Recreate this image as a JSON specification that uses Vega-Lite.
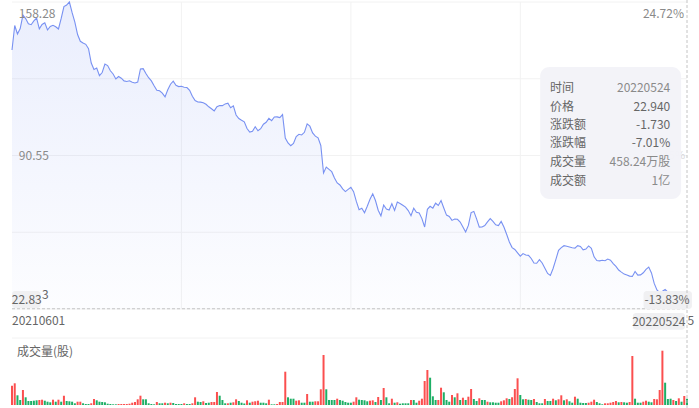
{
"$schema": "https://vega.github.io/schema/vega-lite/v6.json",
"width": 699, "height": 408, "padding": 0, "autosize": {"type": "none"},
"background": "white",
"config": {"view": {"stroke": null}, "text": {"font": "Noto Sans CJK SC", "fontSize": 12}},
"datasets": {
"d": [
{"i":0,"p":137.10,"v":1409,"c":"r"},{"i":1,"p":147.91,"v":1584,"c":"r"},{"i":2,"p":144.16,"v":708,"c":"g"},{"i":3,"p":146.59,"v":365,"c":"g"},{"i":4,"p":152.50,"v":1095,"c":"r"},{"i":5,"p":150.95,"v":562,"c":"g"},{"i":6,"p":148.70,"v":292,"c":"g"},{"i":7,"p":148.26,"v":292,"c":"g"},{"i":8,"p":149.98,"v":314,"c":"g"},{"i":9,"p":151.22,"v":343,"c":"g"},
{"i":10,"p":146.45,"v":365,"c":"r"},{"i":11,"p":148.35,"v":387,"c":"r"},{"i":12,"p":149.10,"v":314,"c":"g"},{"i":13,"p":145.92,"v":241,"c":"g"},{"i":14,"p":147.47,"v":197,"c":"g"},{"i":15,"p":148.00,"v":387,"c":"r"},{"i":16,"p":147.38,"v":241,"c":"g"},{"i":17,"p":146.37,"v":387,"c":"r"},{"i":18,"p":151.04,"v":241,"c":"g"},{"i":19,"p":156.25,"v":679,"c":"r"},
{"i":20,"p":156.95,"v":292,"c":"g"},{"i":21,"p":158.28,"v":270,"c":"g"},{"i":22,"p":153.56,"v":241,"c":"g"},{"i":23,"p":149.45,"v":124,"c":"g"},{"i":24,"p":143.94,"v":241,"c":"r"},{"i":25,"p":140.94,"v":241,"c":"r"},{"i":26,"p":140.19,"v":124,"c":"g"},{"i":27,"p":139.61,"v":73,"c":"g"},{"i":28,"p":137.67,"v":73,"c":"g"},{"i":29,"p":131.36,"v":124,"c":"r"},
{"i":30,"p":128.50,"v":438,"c":"r"},{"i":31,"p":129.16,"v":343,"c":"g"},{"i":32,"p":125.76,"v":241,"c":"g"},{"i":33,"p":127.17,"v":219,"c":"g"},{"i":34,"p":130.88,"v":197,"c":"g"},{"i":35,"p":130.22,"v":95,"c":"g"},{"i":36,"p":127.92,"v":73,"c":"g"},{"i":37,"p":126.51,"v":51,"c":"g"},{"i":38,"p":124.31,"v":51,"c":"g"},{"i":39,"p":125.41,"v":73,"c":"r"},
{"i":40,"p":124.66,"v":73,"c":"r"},{"i":41,"p":123.47,"v":73,"c":"r"},{"i":42,"p":123.20,"v":73,"c":"r"},{"i":43,"p":123.51,"v":95,"c":"r"},{"i":44,"p":122.85,"v":168,"c":"r"},{"i":45,"p":122.54,"v":219,"c":"r"},{"i":46,"p":122.94,"v":416,"c":"r"},{"i":47,"p":128.72,"v":679,"c":"r"},{"i":48,"p":128.85,"v":416,"c":"g"},{"i":49,"p":126.73,"v":416,"c":"g"},
{"i":50,"p":124.88,"v":124,"c":"g"},{"i":51,"p":123.47,"v":73,"c":"g"},{"i":52,"p":121.31,"v":51,"c":"g"},{"i":53,"p":119.32,"v":219,"c":"r"},{"i":54,"p":119.10,"v":124,"c":"g"},{"i":55,"p":118.04,"v":124,"c":"g"},{"i":56,"p":116.41,"v":168,"c":"r"},{"i":57,"p":119.54,"v":124,"c":"g"},{"i":58,"p":122.01,"v":168,"c":"r"},{"i":59,"p":123.33,"v":146,"c":"g"},
{"i":60,"p":121.53,"v":73,"c":"g"},{"i":61,"p":120.95,"v":73,"c":"g"},{"i":62,"p":121.08,"v":73,"c":"g"},{"i":63,"p":120.69,"v":124,"c":"r"},{"i":64,"p":120.55,"v":73,"c":"g"},{"i":65,"p":119.32,"v":73,"c":"g"},{"i":66,"p":116.72,"v":124,"c":"r"},{"i":67,"p":114.78,"v":562,"c":"r"},{"i":68,"p":114.16,"v":241,"c":"g"},{"i":69,"p":114.11,"v":219,"c":"g"},
{"i":70,"p":113.80,"v":270,"c":"r"},{"i":71,"p":113.14,"v":146,"c":"g"},{"i":72,"p":112.04,"v":168,"c":"g"},{"i":73,"p":111.16,"v":219,"c":"r"},{"i":74,"p":110.23,"v":219,"c":"r"},{"i":75,"p":112.04,"v":949,"c":"r"},{"i":76,"p":112.61,"v":679,"c":"g"},{"i":77,"p":112.57,"v":365,"c":"g"},{"i":78,"p":113.32,"v":124,"c":"g"},{"i":79,"p":113.63,"v":124,"c":"r"},
{"i":80,"p":111.64,"v":168,"c":"g"},{"i":81,"p":112.48,"v":197,"c":"r"},{"i":82,"p":108.42,"v":416,"c":"r"},{"i":83,"p":106.88,"v":292,"c":"g"},{"i":84,"p":106.08,"v":168,"c":"g"},{"i":85,"p":105.38,"v":110,"c":"g"},{"i":86,"p":102.47,"v":343,"c":"r"},{"i":87,"p":100.92,"v":168,"c":"g"},{"i":88,"p":101.27,"v":241,"c":"r"},{"i":89,"p":103.22,"v":270,"c":"r"},
{"i":90,"p":101.49,"v":314,"c":"r"},{"i":91,"p":102.38,"v":168,"c":"g"},{"i":92,"p":104.36,"v":168,"c":"g"},{"i":93,"p":105.20,"v":124,"c":"g"},{"i":94,"p":106.92,"v":387,"c":"r"},{"i":95,"p":105.95,"v":51,"c":"g"},{"i":96,"p":107.54,"v":51,"c":"g"},{"i":97,"p":107.60,"v":73,"c":"r"},{"i":98,"p":107.30,"v":219,"c":"r"},{"i":99,"p":108.64,"v":219,"c":"r"},
{"i":100,"p":98.27,"v":2431,"c":"r"},{"i":101,"p":96.07,"v":562,"c":"g"},{"i":102,"p":94.88,"v":460,"c":"g"},{"i":103,"p":95.89,"v":460,"c":"g"},{"i":104,"p":98.94,"v":314,"c":"r"},{"i":105,"p":99.91,"v":343,"c":"r"},{"i":106,"p":99.60,"v":168,"c":"g"},{"i":107,"p":100.79,"v":168,"c":"g"},{"i":108,"p":104.50,"v":803,"c":"r"},{"i":109,"p":103.48,"v":241,"c":"g"},
{"i":110,"p":100.52,"v":241,"c":"g"},{"i":111,"p":99.07,"v":270,"c":"r"},{"i":112,"p":98.32,"v":270,"c":"r"},{"i":113,"p":94.97,"v":1146,"c":"r"},{"i":114,"p":82.83,"v":3650,"c":"r"},{"i":115,"p":85.44,"v":1146,"c":"g"},{"i":116,"p":84.42,"v":365,"c":"g"},{"i":117,"p":83.41,"v":365,"c":"g"},{"i":118,"p":80.63,"v":365,"c":"g"},{"i":119,"p":78.46,"v":460,"c":"r"},
{"i":120,"p":77.54,"v":365,"c":"g"},{"i":121,"p":75.86,"v":314,"c":"g"},{"i":122,"p":74.63,"v":219,"c":"g"},{"i":123,"p":75.64,"v":168,"c":"g"},{"i":124,"p":76.57,"v":168,"c":"g"},{"i":125,"p":74.58,"v":241,"c":"r"},{"i":126,"p":70.30,"v":562,"c":"r"},{"i":127,"p":66.64,"v":387,"c":"g"},{"i":128,"p":67.26,"v":365,"c":"g"},{"i":129,"p":65.27,"v":343,"c":"g"},
{"i":130,"p":68.14,"v":270,"c":"g"},{"i":131,"p":71.23,"v":314,"c":"r"},{"i":132,"p":73.66,"v":343,"c":"r"},{"i":133,"p":70.70,"v":219,"c":"g"},{"i":134,"p":66.42,"v":584,"c":"r"},{"i":135,"p":63.95,"v":365,"c":"g"},{"i":136,"p":68.71,"v":1241,"c":"r"},{"i":137,"p":66.95,"v":562,"c":"g"},{"i":138,"p":66.51,"v":124,"c":"g"},{"i":139,"p":69.29,"v":460,"c":"r"},
{"i":140,"p":66.29,"v":168,"c":"g"},{"i":141,"p":69.99,"v":197,"c":"r"},{"i":142,"p":69.38,"v":95,"c":"g"},{"i":143,"p":68.63,"v":124,"c":"g"},{"i":144,"p":67.79,"v":124,"c":"g"},{"i":145,"p":66.24,"v":124,"c":"g"},{"i":146,"p":63.99,"v":365,"c":"r"},{"i":147,"p":67.26,"v":365,"c":"g"},{"i":148,"p":65.54,"v":168,"c":"g"},{"i":149,"p":65.23,"v":314,"c":"r"},
{"i":150,"p":62.71,"v":460,"c":"r"},{"i":151,"p":59.01,"v":1752,"c":"r"},{"i":152,"p":66.82,"v":2555,"c":"r"},{"i":153,"p":68.14,"v":1993,"c":"g"},{"i":154,"p":67.35,"v":635,"c":"g"},{"i":155,"p":69.51,"v":365,"c":"g"},{"i":156,"p":68.54,"v":365,"c":"r"},{"i":157,"p":70.66,"v":1263,"c":"r"},{"i":158,"p":67.39,"v":927,"c":"g"},{"i":159,"p":64.26,"v":365,"c":"g"},
{"i":160,"p":63.64,"v":241,"c":"g"},{"i":161,"p":61.92,"v":730,"c":"r"},{"i":162,"p":62.49,"v":562,"c":"g"},{"i":163,"p":62.40,"v":854,"c":"r"},{"i":164,"p":61.17,"v":365,"c":"g"},{"i":165,"p":59.01,"v":533,"c":"r"},{"i":166,"p":56.80,"v":365,"c":"g"},{"i":167,"p":59.71,"v":606,"c":"r"},{"i":168,"p":65.36,"v":1168,"c":"r"},{"i":169,"p":65.89,"v":438,"c":"g"},
{"i":170,"p":62.58,"v":292,"c":"g"},{"i":171,"p":58.96,"v":489,"c":"r"},{"i":172,"p":59.01,"v":365,"c":"g"},{"i":173,"p":59.67,"v":365,"c":"g"},{"i":174,"p":61.26,"v":241,"c":"r"},{"i":175,"p":62.71,"v":197,"c":"g"},{"i":176,"p":61.48,"v":197,"c":"g"},{"i":177,"p":59.98,"v":168,"c":"g"},{"i":178,"p":59.63,"v":168,"c":"g"},{"i":179,"p":61.48,"v":270,"c":"r"},
{"i":180,"p":59.01,"v":343,"c":"r"},{"i":181,"p":55.79,"v":489,"c":"r"},{"i":182,"p":52.39,"v":438,"c":"g"},{"i":183,"p":49.92,"v":562,"c":"r"},{"i":184,"p":49.08,"v":1168,"c":"r"},{"i":185,"p":47.58,"v":1949,"c":"r"},{"i":186,"p":46.12,"v":730,"c":"g"},{"i":187,"p":47.27,"v":416,"c":"g"},{"i":188,"p":46.65,"v":438,"c":"r"},{"i":189,"p":46.50,"v":387,"c":"g"},
{"i":190,"p":45.11,"v":365,"c":"g"},{"i":191,"p":43.12,"v":438,"c":"r"},{"i":192,"p":43.00,"v":219,"c":"g"},{"i":193,"p":44.58,"v":124,"c":"g"},{"i":194,"p":43.12,"v":124,"c":"g"},{"i":195,"p":40.83,"v":438,"c":"r"},{"i":196,"p":38.49,"v":292,"c":"g"},{"i":197,"p":37.61,"v":292,"c":"g"},{"i":198,"p":40.70,"v":460,"c":"r"},{"i":199,"p":44.58,"v":343,"c":"g"},
{"i":200,"p":48.73,"v":416,"c":"r"},{"i":201,"p":49.92,"v":708,"c":"r"},{"i":202,"p":50.76,"v":343,"c":"g"},{"i":203,"p":50.54,"v":416,"c":"r"},{"i":204,"p":50.18,"v":270,"c":"g"},{"i":205,"p":49.83,"v":168,"c":"g"},{"i":206,"p":49.70,"v":606,"c":"r"},{"i":207,"p":50.80,"v":460,"c":"g"},{"i":208,"p":50.45,"v":168,"c":"g"},{"i":209,"p":48.95,"v":146,"c":"g"},
{"i":210,"p":49.26,"v":146,"c":"g"},{"i":211,"p":50.67,"v":168,"c":"r"},{"i":212,"p":49.65,"v":241,"c":"r"},{"i":213,"p":45.86,"v":387,"c":"r"},{"i":214,"p":44.23,"v":219,"c":"g"},{"i":215,"p":44.05,"v":124,"c":"g"},{"i":216,"p":44.36,"v":51,"c":"g"},{"i":217,"p":44.14,"v":124,"c":"r"},{"i":218,"p":44.85,"v":124,"c":"r"},{"i":219,"p":44.40,"v":168,"c":"r"},
{"i":220,"p":42.90,"v":219,"c":"r"},{"i":221,"p":41.67,"v":292,"c":"r"},{"i":222,"p":40.04,"v":197,"c":"g"},{"i":223,"p":39.11,"v":219,"c":"r"},{"i":224,"p":38.23,"v":197,"c":"g"},{"i":225,"p":37.83,"v":168,"c":"g"},{"i":226,"p":37.34,"v":219,"c":"r"},{"i":227,"p":37.21,"v":3577,"c":"r"},{"i":228,"p":39.37,"v":460,"c":"g"},{"i":229,"p":37.79,"v":168,"c":"g"},
{"i":230,"p":37.87,"v":168,"c":"g"},{"i":231,"p":38.80,"v":241,"c":"r"},{"i":232,"p":40.35,"v":314,"c":"r"},{"i":233,"p":41.32,"v":241,"c":"g"},{"i":234,"p":38.76,"v":197,"c":"g"},{"i":235,"p":34.12,"v":438,"c":"r"},{"i":236,"p":31.26,"v":416,"c":"r"},{"i":237,"p":30.02,"v":1095,"c":"r"},{"i":238,"p":30.64,"v":3964,"c":"r"},{"i":239,"p":31.43,"v":1628,"c":"g"},
{"i":240,"p":30.29,"v":438,"c":"g"},{"i":241,"p":28.74,"v":460,"c":"g"},{"i":242,"p":27.68,"v":365,"c":"r"},{"i":243,"p":26.71,"v":292,"c":"g"},{"i":244,"p":25.96,"v":489,"c":"r"},{"i":245,"p":25.30,"v":241,"c":"g"},{"i":246,"p":24.67,"v":657,"c":"r"},{"i":247,"p":22.94,"v":458.24,"c":"g"}
],
"hg": [{"p":158.28},{"p":124.42},{"p":90.555},{"p":56.69},{"p":22.83}],
"vg": [{"i":62},{"i":124},{"i":186}],
"cross": [{"i":247,"p":22.94}],
"axl": [{"i":2.5,"p":152.9,"t":"158.28","k":"axis"},{"i":2.5,"p":90.3,"t":"90.55","k":"axis"},{"i":0,"p":17.5,"t":"20210601","k":"date"},{"i":1.8,"p":3.9,"t":"成交量(股)","k":"date"}],
"axr": [{"i":245.9,"p":152.9,"t":"24.72%","k":"axis"}],
"axf": [{"i":246.3,"p":90.3,"t":"5.45%"}],
"tip": [{"i":193.27,"i2":244.84,"p":129.6,"p2":71.36}],
"tipl": [{"i":196.9,"p":120.34,"t":"时间"},{"i":196.9,"p":112.17,"t":"价格"},{"i":196.9,"p":104.01,"t":"涨跌额"},{"i":196.9,"p":95.85,"t":"涨跌幅"},{"i":196.9,"p":87.69,"t":"成交量"},{"i":196.9,"p":79.52,"t":"成交额"}],
"tipv": [{"i":240.87,"p":120.34,"t":"20220524","k":"n"},{"i":240.87,"p":112.17,"t":"22.940","k":"d"},{"i":240.87,"p":104.01,"t":"-1.730","k":"d"},{"i":240.87,"p":95.85,"t":"-7.01%","k":"d"},{"i":240.87,"p":87.69,"t":"458.24万股","k":"n"},{"i":240.87,"p":79.52,"t":"1亿","k":"n"}],
"boxes": [{"i":0,"i2":10.46,"p":30.77,"p2":23.27},{"i":231.1,"i2":248.8,"p":30.77,"p2":22.83},{"i":227.2,"i2":246.3,"p":21.06,"p2":13.66}],
"boxt": [{"i":5.4,"p":27.0,"t":"22.83"},{"i":12.2,"p":29.2,"t":"3"},{"i":239.7,"p":26.8,"t":"-13.83%"},{"i":236.7,"p":17.3,"t":"20220524"},{"i":248.4,"p":17.5,"t":"5"}],
"vtop": [{"v":4891}]
},
"layer": [
{
"layer": [
{"data": {"name": "hg"}, "mark": {"type": "rule", "color": "#f2f2f2", "strokeWidth": 1},
 "encoding": {"x": {"datum": 0, "type": "quantitative", "scale": {"domain": [0, 247], "range": [7, 692], "nice": false, "zero": false}, "axis": null}, "x2": {"datum": 247}, "y": {"field": "p", "type": "quantitative", "scale": {"domain": [22.83, 158.28], "range": [309, 2], "nice": false, "zero": false}, "axis": null}}},
{"data": {"name": "vg"}, "mark": {"type": "rule", "color": "#f2f2f2", "strokeWidth": 1},
 "encoding": {"x": {"field": "i", "type": "quantitative", "scale": {"domain": [0, 247], "range": [7, 692], "nice": false, "zero": false}, "axis": null}, "y": {"datum": 158.28, "type": "quantitative", "scale": {"domain": [22.83, 158.28], "range": [309, 2], "nice": false, "zero": false}, "axis": null}, "y2": {"datum": 22.83}}},
{"data": {"name": "d"}, "mark": {"type": "area", "fill": {"gradient": "linear", "x1": 0, "y1": 0, "x2": 0, "y2": 1, "stops": [{"offset": 0, "color": "rgba(92,123,240,0.13)"}, {"offset": 1, "color": "rgba(92,123,240,0.015)"}]}},
 "encoding": {"x": {"field": "i", "type": "quantitative", "scale": {"domain": [0, 247], "range": [7, 692], "nice": false, "zero": false}, "axis": null}, "y": {"field": "p", "type": "quantitative", "scale": {"domain": [22.83, 158.28], "range": [309, 2], "nice": false, "zero": false}, "axis": null}, "y2": {"datum": 22.83}}},
{"data": {"name": "d"}, "mark": {"type": "line", "color": "#7891f2", "strokeWidth": 1.1},
 "encoding": {"x": {"field": "i", "type": "quantitative", "scale": {"domain": [0, 247], "range": [7, 692], "nice": false, "zero": false}, "axis": null}, "y": {"field": "p", "type": "quantitative", "scale": {"domain": [22.83, 158.28], "range": [309, 2], "nice": false, "zero": false}, "axis": null}}},
{"data": {"name": "cross"}, "mark": {"type": "rule", "color": "#c4c4c4", "strokeDash": [3, 2], "strokeWidth": 1},
 "encoding": {"x": {"datum": 0, "type": "quantitative", "scale": {"domain": [0, 247], "range": [7, 692], "nice": false, "zero": false}, "axis": null}, "x2": {"datum": 247}, "y": {"field": "p", "type": "quantitative", "scale": {"domain": [22.83, 158.28], "range": [309, 2], "nice": false, "zero": false}, "axis": null}}},
{"data": {"name": "axl"}, "mark": {"type": "text", "align": "left", "baseline": "middle"},
 "encoding": {"x": {"field": "i", "type": "quantitative", "scale": {"domain": [0, 247], "range": [7, 692], "nice": false, "zero": false}, "axis": null}, "y": {"field": "p", "type": "quantitative", "scale": {"domain": [22.83, 158.28], "range": [309, 2], "nice": false, "zero": false}, "axis": null}, "text": {"field": "t"}, "color": {"field": "k", "type": "nominal", "scale": {"domain": ["axis", "date"], "range": ["#8a8a8a", "#666666"]}, "legend": null}}},
{"data": {"name": "axr"}, "mark": {"type": "text", "align": "right", "baseline": "middle"},
 "encoding": {"x": {"field": "i", "type": "quantitative", "scale": {"domain": [0, 247], "range": [7, 692], "nice": false, "zero": false}, "axis": null}, "y": {"field": "p", "type": "quantitative", "scale": {"domain": [22.83, 158.28], "range": [309, 2], "nice": false, "zero": false}, "axis": null}, "text": {"field": "t"}, "color": {"field": "k", "type": "nominal", "scale": {"domain": ["axis", "date"], "range": ["#8a8a8a", "#666666"]}, "legend": null}}},
{"data": {"name": "axf"}, "mark": {"type": "text", "align": "right", "baseline": "middle", "color": "#d8d8dc", "fontSize": 11},
 "encoding": {"x": {"field": "i", "type": "quantitative", "scale": {"domain": [0, 247], "range": [7, 692], "nice": false, "zero": false}, "axis": null}, "y": {"field": "p", "type": "quantitative", "scale": {"domain": [22.83, 158.28], "range": [309, 2], "nice": false, "zero": false}, "axis": null}, "text": {"field": "t"}}},
{"data": {"name": "tip"}, "mark": {"type": "rect", "fill": "#f2f3f8", "opacity": 0.96, "cornerRadius": 9},
 "encoding": {"x": {"field": "i", "type": "quantitative", "scale": {"domain": [0, 247], "range": [7, 692], "nice": false, "zero": false}, "axis": null}, "x2": {"field": "i2"}, "y": {"field": "p", "type": "quantitative", "scale": {"domain": [22.83, 158.28], "range": [309, 2], "nice": false, "zero": false}, "axis": null}, "y2": {"field": "p2"}}},
{"data": {"name": "tipl"}, "mark": {"type": "text", "align": "left", "baseline": "middle", "color": "#666666"},
 "encoding": {"x": {"field": "i", "type": "quantitative", "scale": {"domain": [0, 247], "range": [7, 692], "nice": false, "zero": false}, "axis": null}, "y": {"field": "p", "type": "quantitative", "scale": {"domain": [22.83, 158.28], "range": [309, 2], "nice": false, "zero": false}, "axis": null}, "text": {"field": "t"}}},
{"data": {"name": "tipv"}, "mark": {"type": "text", "align": "right", "baseline": "middle"},
 "encoding": {"x": {"field": "i", "type": "quantitative", "scale": {"domain": [0, 247], "range": [7, 692], "nice": false, "zero": false}, "axis": null}, "y": {"field": "p", "type": "quantitative", "scale": {"domain": [22.83, 158.28], "range": [309, 2], "nice": false, "zero": false}, "axis": null}, "text": {"field": "t"}, "color": {"field": "k", "type": "nominal", "scale": {"domain": ["n", "d"], "range": ["#666666", "#20b26b"]}, "legend": null}}},
{"data": {"name": "boxes"}, "mark": {"type": "rect", "fill": "#f0f0f2", "cornerRadius": 3},
 "encoding": {"x": {"field": "i", "type": "quantitative", "scale": {"domain": [0, 247], "range": [7, 692], "nice": false, "zero": false}, "axis": null}, "x2": {"field": "i2"}, "y": {"field": "p", "type": "quantitative", "scale": {"domain": [22.83, 158.28], "range": [309, 2], "nice": false, "zero": false}, "axis": null}, "y2": {"field": "p2"}}},
{"data": {"name": "boxt"}, "mark": {"type": "text", "align": "center", "baseline": "middle", "color": "#666666"},
 "encoding": {"x": {"field": "i", "type": "quantitative", "scale": {"domain": [0, 247], "range": [7, 692], "nice": false, "zero": false}, "axis": null}, "y": {"field": "p", "type": "quantitative", "scale": {"domain": [22.83, 158.28], "range": [309, 2], "nice": false, "zero": false}, "axis": null}, "text": {"field": "t"}}}
]
},
{
"layer": [
{"data": {"name": "vtop"}, "mark": {"type": "rule", "color": "#f2f2f2", "strokeWidth": 1},
 "encoding": {"x": {"datum": 0, "type": "quantitative", "scale": {"domain": [0, 247], "range": [7, 692], "nice": false, "zero": false}, "axis": null}, "x2": {"datum": 247}, "y": {"field": "v", "type": "quantitative", "scale": {"domain": [0, 4891], "range": [405, 338], "nice": false}, "axis": null}}},
{"data": {"name": "d"}, "mark": {"type": "bar", "size": 2},
 "encoding": {"x": {"field": "i", "type": "quantitative", "scale": {"domain": [0, 247], "range": [7, 692], "nice": false, "zero": false}, "axis": null}, "y": {"field": "v", "type": "quantitative", "scale": {"domain": [0, 4891], "range": [405, 338], "nice": false}, "axis": null}, "color": {"field": "c", "type": "nominal", "scale": {"domain": ["r", "g"], "range": ["#fb4f4f", "#1daf66"]}, "legend": null}}}
]
},
{"data": {"name": "cross"}, "mark": {"type": "rule", "color": "#c4c4c4", "strokeDash": [3, 2], "strokeWidth": 1},
 "encoding": {"x": {"field": "i", "type": "quantitative", "scale": {"domain": [0, 247], "range": [7, 692], "nice": false, "zero": false}, "axis": null}}}
],
"resolve": {"scale": {"y": "independent", "color": "independent"}}
}
